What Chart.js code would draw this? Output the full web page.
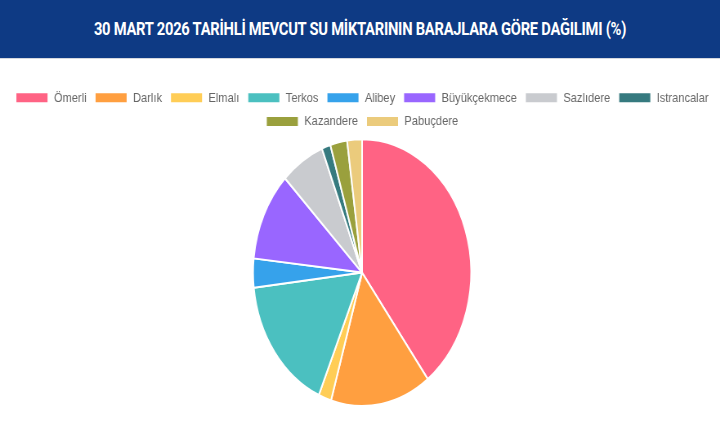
<!DOCTYPE html>
<html>
<head>
<meta charset="utf-8">
<script src="https://cdn.jsdelivr.net/npm/chart.js@4"></script>
<style>
  html, body { margin: 0; padding: 0; background: #fff; overflow: hidden; }
  /* whole page is drawn wide and squeezed horizontally, like the reference */
  #wrap { position: absolute; left: 0; top: 0; width: 881px; height: 430px; transform: scaleX(0.8173); transform-origin: 0 0; }
  #banner { height: 58px; background: #0e3a84; border-bottom: 1px solid #d5d8de; color: #fff;
            font-family: Roboto, "Open Sans", sans-serif; font-weight: 700; font-size: 18px;
            text-align: center; line-height: 58px; letter-spacing: -0.3px; }
  #box { position: absolute; left: 0; top: 59px; width: 881px; height: 371px; }
</style>
</head>
<body>
<div id="wrap">
  <div id="banner">30 MART 2026 TARİHLİ MEVCUT SU MİKTARININ BARAJLARA GÖRE DAĞILIMI (%)</div>
  <div id="box"><canvas id="pie"></canvas></div>
</div>
<script>
// Dams and their share of stored water (%)
const dams = ["Ömerli", "Darlık", "Elmalı", "Terkos", "Alibey", "Büyükçekmece", "Sazlıdere", "Istrancalar", "Kazandere", "Pabuçdere"];
const shares = [39.7, 14.9, 1.9, 16.7, 3.5, 10.8, 6.5, 1.3, 2.5, 2.2];
const colors = ["#ff6384", "#ff9f40", "#ffcd56", "#4bc0c0", "#36a2eb", "#9966ff", "#c9cbcf", "#367a7f", "#9aa03d", "#ebcb7c"];

const ctx = document.getElementById("pie").getContext("2d");
new Chart(ctx, {
  type: "pie",
  data: {
    labels: dams,
    datasets: [{
      data: shares,
      backgroundColor: colors,
      borderColor: "#fff",
      borderWidth: 2
    }]
  },
  options: {
    responsive: true,
    maintainAspectRatio: false,
    animation: false,
    layout: { padding: { top: 22, bottom: 23, left: 5 } },
    plugins: {
      legend: {
        position: "top",
        labels: {
          boxWidth: 40,
          boxHeight: 11,
          padding: 10,
          color: "#666",
          font: { family: "'Liberation Sans', Arial, sans-serif", size: 13.6 }
        }
      },
      tooltip: { enabled: false }
    }
  }
});
</script>
</body>
</html>
